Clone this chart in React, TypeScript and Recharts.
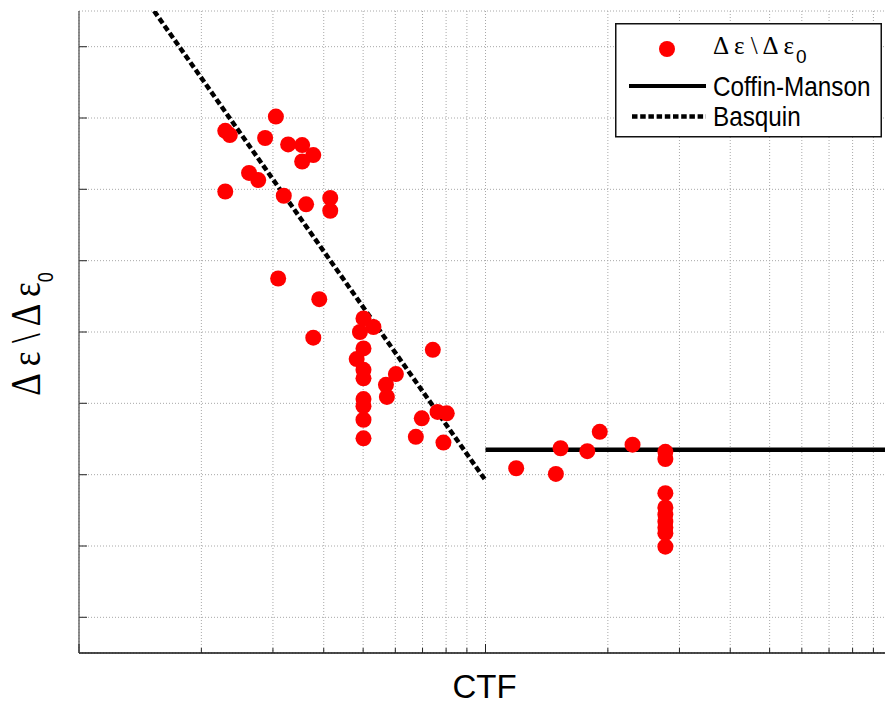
import React from 'react';
import { ScatterChart, Scatter, XAxis, YAxis, CartesianGrid, Legend } from 'recharts';

// Measured data (CTF, normalized strain range)
const ctfValues = [
  3.05, 2.29, 2.35, 2.87, 3.27, 3.54, 3.77, 3.54, 2.62, 2.76, 2.29, 3.19, 3.62, 4.15, 4.15,
  3.09, 3.9, 3.77, 5.01, 5.3, 4.91, 5.01, 4.82, 5.01, 5.01, 6.02, 5.69, 5.72, 7.42, 5.01,
  5.01, 5.01, 5.01, 6.97, 6.74, 7.62, 8.03, 7.88,
  11.9, 14.9, 15.3, 17.8, 19.1, 23.0, 27.7, 27.7, 27.7, 27.7, 27.7, 27.7, 27.7, 27.7, 27.7,
];
const strainValues = [
  8.02, 7.82, 7.76, 7.72, 7.63, 7.62, 7.48, 7.39, 7.23, 7.13, 6.97, 6.91, 6.79, 6.88, 6.7,
  5.75, 5.46, 4.92, 5.19, 5.07, 5.0, 4.77, 4.62, 4.47, 4.35, 4.41, 4.26, 4.09, 4.75, 4.06,
  3.96, 3.77, 3.51, 3.79, 3.53, 3.88, 3.86, 3.45,
  3.09, 3.01, 3.37, 3.33, 3.6, 3.42, 3.32, 3.22, 2.74, 2.54, 2.44, 2.34, 2.26, 2.18, 1.99,
];
const basquinCtf = [1.53, 10];
const basquinStrain = [9.5, 2.92];
const coffinCtf = [10, 100];
const coffinStrain = [3.35, 3.35];

const xTicks = [1, 2, 3, 4, 5, 6, 7, 8, 9, 10, 20, 30, 40, 50, 60, 70, 80, 90, 100];
const majorXTicks = [1, 10, 100];
const yTicks = [1, 2, 3, 4, 5, 6, 7, 8, 9];

const points = ctfValues.map((x, i) => ({ x, y: strainValues[i] }));
const basquin = basquinCtf.map((x, i) => ({ x, y: basquinStrain[i] }));
const coffin = coffinCtf.map((x, i) => ({ x, y: coffinStrain[i] }));

const BottomTick = (props: any) => {
  const { x, y, payload } = props;
  const len = majorXTicks.includes(payload.value) ? 9 : 5;
  return <line x1={x} x2={x} y1={y} y2={y - len} stroke="#222" strokeWidth={1} />;
};
const TopTick = (props: any) => {
  const { x, y, payload } = props;
  const len = majorXTicks.includes(payload.value) ? 9 : 5;
  return <line x1={x} x2={x} y1={y} y2={y + len} stroke="#555" strokeWidth={1} />;
};
const LeftTick = (props: any) => {
  const { x, y } = props;
  return <line x1={x} x2={x + 8} y1={y} y2={y} stroke="#444" strokeWidth={1.2} />;
};

const YLabel = (props: any) => {
  const { x, y, height } = props.viewBox;
  const cx = x + 40;
  const cy = y + height / 2 + 2;
  return (
    <text
      transform={`translate(${cx},${cy}) rotate(-90) scale(1,1.2)`}
      textAnchor="middle"
      fontFamily="'Liberation Serif', serif"
      fontSize={35}
      fill="#000"
    >
      Δ ε \ Δ ε
      <tspan fontFamily="'Liberation Sans', Arial, sans-serif" fontSize={18} dy={11}>0</tspan>
    </text>
  );
};

const XLabel = (props: any) => {
  const { x, y, width } = props.viewBox;
  return (
    <text
      x={x + width / 2 - 1}
      y={y + 44.5}
      textAnchor="middle"
      fontFamily="'Liberation Sans', Arial, sans-serif"
      fontSize={33}
      fill="#000"
    >
      CTF
    </text>
  );
};

const renderLegend = () => (
  <svg width={267} height={115} style={{ display: 'block' }}>
    <rect x={0.75} y={0.75} width={265.5} height={113} fill="#fff" stroke="#111" strokeWidth={1.5} />
    <circle cx={52} cy={26} r={8} fill="#ff0000" />
    <text x={98} y={31} fontFamily="'Liberation Serif', serif" fontSize={25} fill="#000">
      Δ ε \ Δ ε
      <tspan fontFamily="'Liberation Sans', Arial, sans-serif" fontSize={19} dy={9} dx={2}>0</tspan>
    </text>
    <line x1={14} x2={91} y1={63} y2={63} stroke="#000" strokeWidth={4} />
    <text
      transform="translate(98,73.4) scale(1,1.15)"
      fontFamily="'Liberation Sans', Arial, sans-serif"
      fontSize={24.3}
      fill="#000"
    >
      Coffin-Manson
    </text>
    <line x1={17} x2={91} y1={93.5} y2={93.5} stroke="#000" strokeWidth={4.5} strokeDasharray="5.5 2.7" />
    <text
      transform="translate(98,102.7) scale(1,1.15)"
      fontFamily="'Liberation Sans', Arial, sans-serif"
      fontSize={24.3}
      fill="#000"
    >
      Basquin
    </text>
  </svg>
);

const Dot = (props: any) => <circle cx={props.cx} cy={props.cy} r={8} fill="#ff0000" />;
const NoDot = () => <g />;

export default function App() {
  return (
    <div
      style={{
        position: 'absolute',
        left: 0,
        top: 0,
        width: 885,
        height: 703,
        overflow: 'hidden',
        background: '#fff',
      }}
    >
      <ScatterChart width={900} height={703} margin={{ top: 11, right: 8, bottom: 0, left: 0 }}>
        <CartesianGrid stroke="#a8a8a8" strokeDasharray="1 2" />
        <XAxis
          dataKey="x"
          type="number"
          scale="log"
          domain={[1, 100]}
          ticks={xTicks}
          interval={0}
          allowDataOverflow
          height={50}
          tickSize={0}
          tickMargin={0}
          tick={BottomTick}
          axisLine={{ stroke: '#111', strokeWidth: 1.3 }}
          label={<XLabel />}
        />
        <XAxis
          xAxisId="top"
          orientation="top"
          dataKey="x"
          type="number"
          scale="log"
          domain={[1, 100]}
          ticks={xTicks}
          interval={0}
          allowDataOverflow
          height={0}
          tickSize={0}
          tickMargin={0}
          tick={TopTick}
          axisLine={{ stroke: '#555', strokeWidth: 1.3 }}
        />
        <YAxis
          dataKey="y"
          type="number"
          domain={[0.5, 9.5]}
          ticks={yTicks}
          interval={0}
          allowDataOverflow
          width={79}
          tickSize={0}
          tickMargin={0}
          tick={LeftTick}
          axisLine={{ stroke: '#555', strokeWidth: 1.3 }}
          label={<YLabel />}
        />
        <Legend
          layout="vertical"
          align="center"
          verticalAlign="middle"
          content={renderLegend}
          wrapperStyle={{ position: 'absolute', left: 615, top: 22.5, width: 267, height: 115 }}
        />
        <Scatter
          name="basquin"
          data={basquin}
          shape={NoDot}
          line={{ stroke: '#000', strokeWidth: 4.5, strokeDasharray: '6 3' }}
          isAnimationActive={false}
        />
        <Scatter
          name="coffin"
          data={coffin}
          shape={NoDot}
          line={{ stroke: '#000', strokeWidth: 4.5 }}
          isAnimationActive={false}
        />
        <Scatter name="points" data={points} shape={Dot} fill="#ff0000" isAnimationActive={false} />
      </ScatterChart>
    </div>
  );
}
